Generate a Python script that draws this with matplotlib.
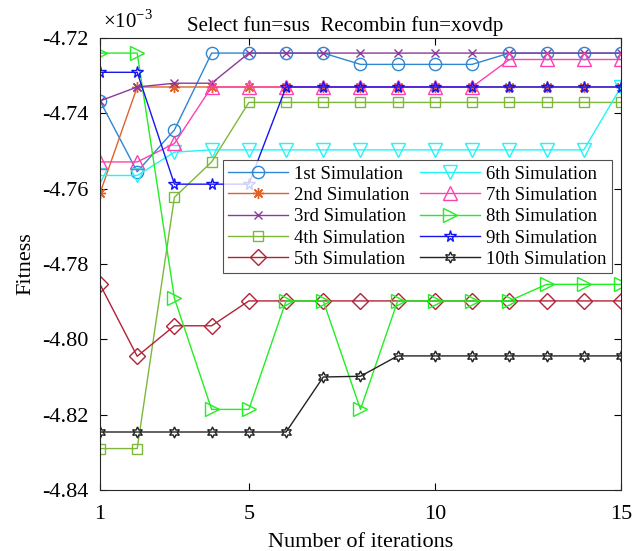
import matplotlib
matplotlib.use("Agg")
import matplotlib.pyplot as plt
import numpy as np

plt.rcParams['font.family'] = ['Liberation Serif', 'DejaVu Serif']
plt.rcParams['axes.unicode_minus'] = False
plt.rcParams['mathtext.fontset'] = 'custom'
plt.rcParams['mathtext.rm'] = 'Liberation Serif'

iterations = list(range(1, 16))

# Fitness values, in units of 1e-3
sim1 = [-4.7367, -4.7555, -4.7444, -4.7240, -4.7240, -4.7240, -4.7240, -4.7270,
        -4.7270, -4.7270, -4.7270, -4.7240, -4.7240, -4.7240, -4.7240]
sim2 = [-4.7612, -4.7330, -4.7330, -4.7330, -4.7330, -4.7330, -4.7330, -4.7330,
        -4.7330, -4.7330, -4.7330, -4.7330, -4.7330, -4.7330, -4.7330]
sim3 = [-4.7367, -4.7330, -4.7320, -4.7320, -4.7240, -4.7240, -4.7240, -4.7240,
        -4.7240, -4.7240, -4.7240, -4.7240, -4.7240, -4.7240, -4.7240]
sim4 = [-4.8290, -4.8290, -4.7623, -4.7529, -4.7371, -4.7371, -4.7371, -4.7371,
        -4.7371, -4.7371, -4.7371, -4.7371, -4.7371, -4.7371, -4.7371]
sim5 = [-4.7854, -4.8045, -4.7964, -4.7964, -4.7898, -4.7898, -4.7898, -4.7898,
        -4.7898, -4.7898, -4.7898, -4.7898, -4.7898, -4.7898, -4.7898]
sim6 = [-4.7565, -4.7565, -4.7503, -4.7497, -4.7497, -4.7497, -4.7497, -4.7497,
        -4.7497, -4.7497, -4.7497, -4.7497, -4.7497, -4.7497, -4.7330]
sim7 = [-4.7529, -4.7529, -4.7480, -4.7330, -4.7330, -4.7330, -4.7330, -4.7330,
        -4.7330, -4.7330, -4.7330, -4.7257, -4.7257, -4.7257, -4.7257]
sim8 = [-4.7240, -4.7240, -4.7891, -4.8186, -4.8186, -4.7898, -4.7898, -4.8186,
        -4.7898, -4.7898, -4.7898, -4.7898, -4.7854, -4.7854, -4.7854]
sim9 = [-4.7291, -4.7291, -4.7588, -4.7588, -4.7588, -4.7330, -4.7330, -4.7330,
        -4.7330, -4.7330, -4.7330, -4.7330, -4.7330, -4.7330, -4.7330]
sim10 = [-4.8246, -4.8246, -4.8246, -4.8246, -4.8246, -4.8246, -4.8100, -4.8098,
         -4.8044, -4.8044, -4.8044, -4.8044, -4.8044, -4.8044, -4.8044]

series = [sim1, sim2, sim3, sim4, sim5, sim6, sim7, sim8, sim9, sim10]
labels = ['1st Simulation', '2nd Simulation', '3rd Simulation', '4th Simulation',
          '5th Simulation', '6th Simulation', '7th Simulation', '8th Simulation',
          '9th Simulation', '10th Simulation']
colors = ['#2E86D4', '#E0622A', '#8A3A9A', '#7DB83A', '#B02236',
          '#22F5F5', '#FF40B0', '#22EE22', '#1515F0', '#222222']
markers = ['o', (8, 2, 0), 'x', 's', 'D', 'v', '^', '>', '*', (6, 1, 0)]
msizes = [8.8, 8, 6, 7, 7.8, 9.5, 9.5, 9.5, 8.5, 8]

fig = plt.figure(figsize=(6.34, 5.51), dpi=100)
ax = fig.add_axes([0.1577, 0.1107, 0.8218, 0.8203])

for y, lab, c, m, ms in zip(series, labels, colors, markers, msizes):
    ax.plot(iterations, y, color=c, lw=1.0, marker=m, ms=ms,
            mfc='none', mec=c, mew=1.0, label=lab)

ax.set_xlim(1, 15)
ax.set_ylim(-4.84, -4.72)
ax.set_xticks([1, 5, 10, 15])
ax.set_yticks(np.arange(-4.84, -4.719, 0.02))
ax.set_yticklabels(['%.2f' % v for v in np.arange(-4.84, -4.719, 0.02)])
ax.tick_params(direction='in', top=True, right=True, labelsize=16, length=5,
               width=0.8, pad=8)
ax.tick_params(axis='x', pad=11)
for s in ax.spines.values():
    s.set_linewidth(0.8)
    s.set_color('#262626')

ax.set_xlabel('Number of iterations', fontsize=16, labelpad=6)
ax.set_ylabel('Fitness', fontsize=16, labelpad=5)
ax.set_title('Select fun=sus  Recombin fun=xovdp', fontsize=15, pad=5, x=0.470)
ax.text(0.005, 1.012, r'$\times 10^{-3}$', transform=ax.transAxes,
        fontsize=15, ha='left', va='bottom')

leg = ax.legend(ncol=2, loc='upper right', bbox_to_anchor=(0.983, 0.730),
                fontsize=13.5, frameon=True, fancybox=False, edgecolor='#262626',
                handlelength=3.2, handletextpad=0.3, columnspacing=0.6,
                labelspacing=0.22, borderpad=0.3, borderaxespad=0.0)
leg.get_frame().set_linewidth(0.8)

fig.savefig('out.png', dpi=100)
